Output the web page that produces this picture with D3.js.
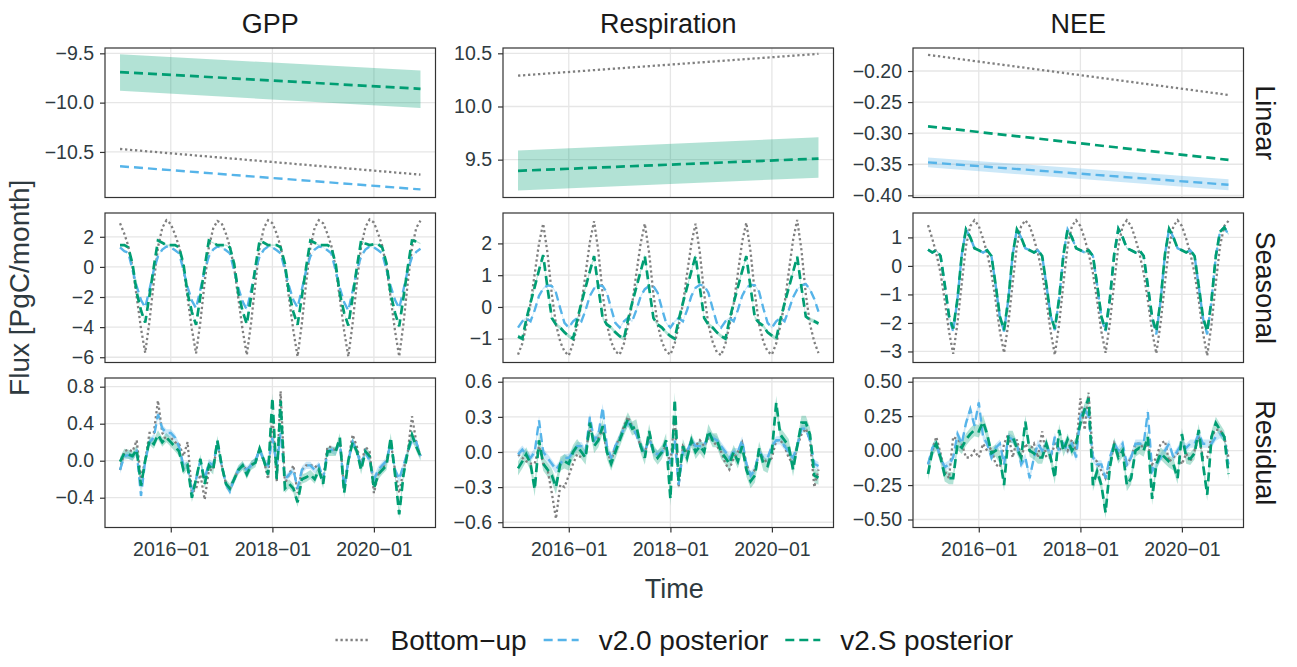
<!DOCTYPE html>
<html>
<head>
<meta charset="utf-8">
<title>Flux components</title>
<script src="https://d3js.org/d3.v7.min.js"></script>
<style>
  body { margin: 0; background: #fff; }
  text { font-family: "Liberation Sans", Arial, Helvetica, sans-serif; }
</style>
</head>
<body>
<script>
// ---------------- data ----------------
const fluxNames = ['GPP', 'Respiration', 'NEE'];
const componentNames = ['Linear', 'Seasonal', 'Residual'];
const seriesNames = ['Bottom\u2212up', 'v2.0 posterior', 'v2.S posterior'];

const months = d3.timeMonth.range(new Date(2015, 0, 1), new Date(2021, 0, 1));
const linearDates = [new Date(2015, 0, 1), new Date(2020, 11, 1)];
const xTickDates = [new Date(2016, 0, 1), new Date(2018, 0, 1), new Date(2020, 0, 1)];
const xTickLabels = ['2016\u221201', '2018\u221201', '2020\u221201'];

// linear trend (start, end)
const gppLinBottomUp = [-10.47, -10.73];
const gppLinV20 = [-10.645, -10.88];
const gppLinV2S = [-9.69, -9.86];
const gppLinV2SLo = [-9.88, -10.055];
const gppLinV2SHi = [-9.51, -9.675];

const respLinBottomUp = [10.29, 10.495];
const respLinV2S = [9.395, 9.51];
const respLinV2SLo = [9.21, 9.33];
const respLinV2SHi = [9.585, 9.71];

const neeLinBottomUp = [-0.174, -0.2385];
const neeLinV20 = [-0.347, -0.383];
const neeLinV20Lo = [-0.355, -0.392];
const neeLinV20Hi = [-0.339, -0.374];
const neeLinV2S = [-0.289, -0.343];

// seasonal (monthly, 2015-01 .. 2020-12)
const gppSeasBottomUp = [
  2.9, 2.2, 1.4, 0.0, -2.0, -4.1, -5.7, -3.6, -1.0, 1.3, 2.6, 3.1,
  2.85, 2.15, 1.35, -0.05, -2.05, -4.15, -5.75, -3.65, -1.0, 1.3, 2.55, 3.05,
  2.9, 2.2, 1.35, -0.05, -2.1, -4.2, -5.85, -3.7, -1.05, 1.3, 2.6, 3.1,
  2.9, 2.2, 1.35, -0.05, -2.1, -4.25, -5.95, -3.75, -1.05, 1.3, 2.6, 3.1,
  2.9, 2.2, 1.4, -0.05, -2.1, -4.25, -5.95, -3.75, -1.0, 1.35, 2.65, 3.15,
  2.95, 2.2, 1.4, -0.05, -2.1, -4.25, -5.95, -3.75, -1.0, 1.3, 2.6, 3.07];
const gppSeasV20 = [
  1.3, 1.05, 0.95, -0.2, -1.3, -2.2, -2.7, -1.5, -0.2, 0.7, 1.15, 1.35,
  1.3, 1.1, 0.9, -0.2, -1.35, -2.25, -2.75, -1.5, -0.2, 0.7, 1.15, 1.35,
  1.3, 1.1, 0.9, -0.25, -1.4, -2.3, -2.85, -1.55, -0.2, 0.7, 1.15, 1.35,
  1.3, 1.1, 0.9, -0.2, -1.3, -2.2, -2.7, -1.5, -0.2, 0.7, 1.15, 1.35,
  1.3, 1.1, 0.9, -0.25, -1.4, -2.35, -2.9, -1.6, -0.2, 0.7, 1.15, 1.35,
  1.3, 1.1, 0.9, -0.2, -1.3, -2.2, -2.75, -1.5, -0.2, 0.65, 1.0, 1.2];
const gppSeasV2S = [
  1.45, 1.45, 1.3, 0.2, -1.7, -2.9, -3.7, -1.9, 0.0, 1.75, 1.6, 1.45,
  1.45, 1.45, 1.3, 0.2, -1.75, -3.0, -3.85, -1.95, 0.0, 1.75, 1.6, 1.45,
  1.45, 1.45, 1.3, 0.2, -1.75, -2.95, -3.8, -1.95, 0.0, 1.75, 1.6, 1.45,
  1.45, 1.45, 1.3, 0.2, -1.75, -3.0, -3.85, -1.95, 0.0, 1.75, 1.6, 1.45,
  1.45, 1.45, 1.3, 0.2, -1.8, -3.05, -3.9, -2.0, 0.0, 1.75, 1.55, 1.45,
  1.5, 1.5, 1.3, 0.2, -1.8, -3.05, -3.95, -2.0, 0.0, 1.75, 1.7, 1.55];

const respSeasBottomUp = [
  -1.5, -1.15, -0.6, 0.1, 1.05, 2.0, 2.62, 1.7, 0.4, -0.55, -1.1, -1.4,
  -1.53, -1.15, -0.6, 0.1, 1.05, 2.05, 2.7, 1.75, 0.4, -0.55, -1.1, -1.4,
  -1.5, -1.15, -0.6, 0.1, 1.05, 2.0, 2.62, 1.7, 0.4, -0.55, -1.1, -1.4,
  -1.5, -1.15, -0.6, 0.1, 1.05, 2.0, 2.62, 1.7, 0.4, -0.55, -1.1, -1.42,
  -1.52, -1.15, -0.6, 0.1, 1.05, 2.05, 2.65, 1.72, 0.4, -0.55, -1.1, -1.4,
  -1.5, -1.15, -0.6, 0.1, 1.1, 2.1, 2.74, 1.78, 0.4, -0.55, -1.1, -1.45];
const respSeasV20 = [
  -0.65, -0.45, -0.35, -0.45, -0.1, 0.35, 0.58, 0.68, 0.66, 0.45, -0.05, -0.5,
  -0.65, -0.45, -0.35, -0.45, -0.1, 0.35, 0.58, 0.68, 0.66, 0.45, -0.05, -0.5,
  -0.65, -0.45, -0.35, -0.45, -0.1, 0.33, 0.56, 0.66, 0.65, 0.45, -0.05, -0.5,
  -0.65, -0.45, -0.35, -0.45, -0.1, 0.35, 0.6, 0.7, 0.66, 0.45, -0.05, -0.5,
  -0.65, -0.45, -0.35, -0.45, -0.1, 0.35, 0.6, 0.7, 0.68, 0.48, -0.05, -0.5,
  -0.65, -0.45, -0.35, -0.45, -0.1, 0.3, 0.55, 0.68, 0.72, 0.55, 0.25, -0.15];
const respSeasV2S = [
  -0.93, -1.0, -0.4, 0.14, 0.63, 1.16, 1.63, 0.6, -0.35, -0.55, -0.65, -0.8,
  -0.92, -1.0, -0.42, 0.13, 0.62, 1.13, 1.6, 0.6, -0.35, -0.55, -0.65, -0.8,
  -0.92, -1.0, -0.42, 0.13, 0.62, 1.13, 1.6, 0.6, -0.35, -0.55, -0.65, -0.8,
  -0.92, -1.0, -0.42, 0.13, 0.62, 1.13, 1.6, 0.6, -0.35, -0.55, -0.65, -0.8,
  -0.92, -1.0, -0.42, 0.13, 0.62, 1.13, 1.6, 0.6, -0.35, -0.5, -0.6, -0.8,
  -0.9, -1.0, -0.42, 0.12, 0.6, 1.1, 1.58, 0.6, -0.3, -0.4, -0.45, -0.52];

const neeSeasBottomUp = [
  1.43, 0.95, 0.45, -0.25, -1.2, -2.3, -3.08, -2.0, -0.6, 0.7, 1.4, 1.6,
  1.4, 0.95, 0.45, -0.25, -1.2, -2.3, -3.05, -2.0, -0.6, 0.7, 1.4, 1.6,
  1.4, 0.95, 0.45, -0.25, -1.2, -2.3, -3.12, -2.05, -0.6, 0.7, 1.4, 1.6,
  1.4, 0.95, 0.45, -0.25, -1.2, -2.3, -3.05, -2.0, -0.6, 0.7, 1.4, 1.6,
  1.4, 0.95, 0.45, -0.25, -1.2, -2.3, -3.07, -2.0, -0.6, 0.7, 1.4, 1.6,
  1.4, 0.95, 0.45, -0.25, -1.2, -2.35, -3.15, -2.05, -0.6, 0.7, 1.4, 1.58];
const neeSeasV20 = [
  0.57, 0.47, 0.55, 0.35, -0.65, -1.8, -2.3, -1.15, 0.4, 1.28, 1.0, 0.62,
  0.55, 0.47, 0.55, 0.35, -0.65, -1.8, -2.3, -1.15, 0.4, 1.28, 1.0, 0.62,
  0.55, 0.47, 0.55, 0.35, -0.65, -1.75, -2.25, -1.15, 0.4, 1.28, 1.0, 0.62,
  0.55, 0.47, 0.55, 0.35, -0.65, -1.8, -2.3, -1.15, 0.4, 1.3, 1.0, 0.62,
  0.55, 0.47, 0.55, 0.35, -0.7, -1.85, -2.4, -1.2, 0.4, 1.3, 1.0, 0.62,
  0.55, 0.47, 0.55, 0.35, -0.7, -1.85, -2.4, -1.2, 0.35, 1.2, 1.35, 1.1];
const neeSeasV2S = [
  0.57, 0.47, 0.55, 0.35, -0.65, -1.75, -2.2, -1.15, 0.4, 1.28, 1.0, 0.62,
  0.55, 0.47, 0.55, 0.35, -0.65, -1.78, -2.25, -1.15, 0.4, 1.28, 1.0, 0.62,
  0.55, 0.47, 0.55, 0.35, -0.65, -1.75, -2.2, -1.15, 0.4, 1.28, 1.0, 0.62,
  0.55, 0.47, 0.55, 0.35, -0.65, -1.78, -2.25, -1.15, 0.4, 1.3, 1.0, 0.62,
  0.55, 0.47, 0.55, 0.35, -0.7, -1.8, -2.3, -1.2, 0.4, 1.3, 1.0, 0.62,
  0.55, 0.47, 0.55, 0.35, -0.7, -1.8, -2.3, -1.2, 0.35, 1.2, 1.35, 1.12];

// residual (monthly, 2015-01 .. 2020-12)
const gppResBottomUp = [
  -0.1, 0.1, 0.12, 0.1, 0.22, -0.2, 0.0, 0.3, 0.3, 0.65, 0.3, 0.22,
  0.25, 0.2, 0.18, 0.05, 0.2, -0.35, -0.3, -0.15, -0.42, -0.1, -0.1, 0.2,
  -0.05, -0.25, -0.3, -0.2, -0.1, -0.05, -0.1, -0.05, 0.0, 0.12, 0.0, -0.2,
  0.5, -0.22, 0.75, -0.25, -0.15, -0.05, -0.35, -0.1, -0.05, -0.05, -0.05, -0.1,
  -0.2, 0.15, 0.15, 0.1, 0.22, -0.3, 0.0, 0.28, 0.15, -0.05, 0.15, 0.1,
  -0.35, -0.15, -0.1, 0.0, 0.2, -0.1, -0.35, -0.1, 0.1, 0.48, 0.2, 0.05];
const gppResV20 = [
  -0.1, 0.05, 0.06, 0.04, 0.1, -0.38, 0.0, 0.2, 0.25, 0.5, 0.35, 0.3,
  0.3, 0.25, 0.15, -0.05, -0.05, -0.35, -0.2, 0.0, -0.2, -0.02, -0.05, 0.2,
  -0.05, -0.25, -0.33, -0.2, -0.1, -0.05, -0.1, -0.05, 0.0, 0.12, 0.0, -0.05,
  0.25, -0.05, 0.3, -0.2, -0.15, -0.1, -0.3, -0.1, -0.05, -0.05, -0.1, -0.05,
  -0.2, 0.1, 0.12, 0.1, 0.2, -0.3, 0.0, 0.2, 0.1, -0.05, 0.1, 0.0,
  -0.2, -0.1, -0.05, 0.0, 0.2, -0.1, -0.2, -0.05, 0.1, 0.22, 0.2, 0.05];
const gppResV2S = [
  -0.01, 0.08, 0.07, 0.05, 0.12, -0.27, 0.0, 0.22, 0.18, 0.28, 0.2, 0.25,
  0.2, 0.15, 0.1, -0.1, -0.05, -0.4, -0.2, 0.02, -0.25, -0.05, -0.1, 0.22,
  -0.05, -0.25, -0.3, -0.2, -0.1, -0.05, -0.15, -0.05, -0.02, 0.13, 0.0, -0.15,
  0.68, -0.2, 0.65, -0.3, -0.25, -0.3, -0.45, -0.2, -0.18, -0.15, -0.2, -0.1,
  -0.25, 0.1, 0.1, 0.1, 0.25, -0.35, 0.0, 0.2, 0.1, -0.1, 0.1, 0.05,
  -0.3, -0.15, -0.1, -0.05, 0.25, -0.15, -0.58, -0.15, 0.1, 0.28, 0.15, 0.05];

const respResBottomUp = [
  -0.02, -0.05, -0.08, -0.1, -0.1, 0.05, -0.1, -0.15, -0.35, -0.57, -0.28, -0.3,
  -0.2, -0.1, -0.02, -0.05, 0.0, 0.2, 0.1, 0.12, 0.2, 0.0, -0.08, 0.05,
  0.12, 0.22, 0.3, 0.22, 0.15, 0.05, 0.0, 0.12, 0.0, -0.02, 0.0, 0.05,
  -0.1, 0.3, -0.3, 0.05, 0.0, 0.08, 0.05, 0.1, 0.05, 0.12, 0.1, 0.05,
  0.0, -0.1, -0.15, -0.05, 0.0, 0.08, -0.1, -0.2, -0.15, 0.0, -0.05, -0.1,
  -0.05, 0.1, 0.1, 0.05, -0.05, -0.1, 0.05, 0.15, 0.2, 0.1, -0.3, -0.15];
const respResV20 = [
  -0.02, 0.02, -0.02, -0.05, 0.0, 0.27, 0.0, -0.05, -0.1, -0.15, -0.1, -0.05,
  -0.05, 0.0, 0.05, 0.05, 0.0, 0.3, 0.1, 0.15, 0.38, 0.05, -0.05, 0.05,
  0.12, 0.2, 0.25, 0.22, 0.15, 0.05, 0.0, 0.12, 0.0, -0.02, 0.0, 0.05,
  -0.1, 0.1, -0.28, 0.0, 0.0, 0.1, 0.05, 0.05, 0.05, 0.15, 0.12, 0.1,
  0.05, 0.0, -0.05, 0.0, 0.0, 0.1, -0.1, -0.2, -0.15, 0.0, -0.05, -0.05,
  0.05, 0.1, 0.1, 0.05, 0.0, -0.05, 0.05, 0.2, 0.2, 0.1, -0.1, -0.12];
const respResV2S = [
  -0.14, -0.08, -0.02, -0.1, -0.32, 0.1, -0.1, -0.15, -0.2, -0.3, -0.1, -0.08,
  -0.1, 0.0, 0.05, 0.0, -0.05, 0.25, 0.05, 0.1, 0.22, 0.0, -0.1, 0.0,
  0.1, 0.2, 0.28, 0.2, 0.22, 0.05, -0.05, 0.18, 0.0, -0.05, 0.0, 0.1,
  -0.4, 0.45, -0.25, 0.05, -0.05, 0.1, 0.0, 0.05, 0.0, 0.18, 0.1, 0.1,
  0.0, -0.05, -0.1, 0.0, -0.08, 0.05, -0.15, -0.25, -0.2, 0.03, -0.1, -0.12,
  0.0, 0.42, 0.15, 0.1, 0.05, -0.15, 0.05, 0.25, 0.25, 0.15, -0.2, -0.22];

const neeResBottomUp = [
  -0.1, 0.0, 0.1, -0.02, -0.15, -0.2, 0.1, 0.08, 0.05, -0.05, -0.05, 0.0,
  -0.05, 0.05, 0.0, 0.02, -0.1, -0.12, 0.05, 0.12, -0.05, 0.08, -0.05, 0.05,
  0.0, 0.05, -0.05, 0.14, -0.05, -0.05, 0.05, 0.0, 0.05, 0.0, 0.08, 0.0,
  0.38, 0.15, 0.42, -0.05, -0.08, -0.15, -0.2, -0.1, 0.05, -0.02, 0.0, -0.1,
  -0.05, 0.05, 0.05, 0.02, 0.05, -0.1, -0.05, 0.05, 0.07, -0.08, -0.05, -0.02,
  -0.1, -0.02, -0.08, 0.0, 0.1, -0.05, -0.05, 0.1, 0.15, 0.15, 0.1, -0.05];
const neeResV20 = [
  -0.1, 0.02, 0.05, -0.05, -0.12, -0.1, -0.05, 0.12, 0.05, 0.2, 0.3, 0.18,
  0.35, 0.1, 0.05, -0.05, 0.02, 0.05, -0.1, 0.1, 0.08, 0.05, -0.1, -0.05,
  -0.2, -0.05, 0.05, 0.0, 0.05, -0.05, 0.1, 0.0, 0.05, 0.0, 0.05, -0.05,
  0.25, 0.3, 0.25, -0.05, -0.1, -0.1, -0.2, -0.05, 0.05, 0.0, 0.05, -0.1,
  -0.05, 0.05, 0.05, 0.05, 0.28, -0.15, -0.1, -0.05, 0.0, 0.05, -0.05, 0.0,
  0.05, 0.02, 0.05, 0.05, 0.12, 0.05, 0.05, 0.05, 0.1, 0.12, 0.1, -0.1];
const neeResV2S = [
  -0.17, 0.0, 0.05, -0.05, -0.18, -0.2, -0.2, 0.05, 0.02, 0.08, 0.12, 0.15,
  0.14, 0.21, 0.12, -0.02, 0.0, -0.05, -0.25, 0.1, 0.1, 0.02, -0.05, 0.21,
  0.0, -0.02, -0.05, -0.05, 0.05, -0.05, -0.2, 0.15, 0.0, 0.08, 0.0, 0.05,
  0.2, 0.3, 0.38, -0.25, -0.15, -0.25, -0.45, -0.12, 0.05, -0.05, 0.0, -0.25,
  -0.2, 0.0, 0.02, 0.0, 0.1, -0.35, -0.1, -0.02, -0.05, -0.08, -0.1, -0.2,
  0.12, -0.05, -0.06, -0.02, 0.15, -0.1, -0.32, 0.1, 0.2, 0.15, 0.1, -0.17];

// uncertainty band half-widths (GPP, Respiration, NEE)
const seasonalBandV20 = [0.03, 0.03, 0.03];
const seasonalBandV2S = [0.04, 0.06, 0.03];
const residualBandV20 = [0.04, 0.035, 0.03];
const residualBandV2S = [0.05, 0.06, 0.045];

// y axis limits and ticks per panel [row][col]
const yLimits = [
  [[-10.962, -9.446], [9.144, 10.55], [-0.4035, -0.163]],
  [[-6.35, 3.58], [-1.748, 2.957], [-3.387, 1.856]],
  [[-0.722, 0.894], [-0.645, 0.632], [-0.558, 0.527]]];
const yTicks = [
  [[-10.5, -10.0, -9.5], [9.5, 10.0, 10.5], [-0.4, -0.35, -0.3, -0.25, -0.2]],
  [[-6, -4, -2, 0, 2], [-1, 0, 1, 2], [-3, -2, -1, 0, 1]],
  [[-0.4, 0.0, 0.4, 0.8], [-0.6, -0.3, 0.0, 0.3, 0.6], [-0.5, -0.25, 0.0, 0.25, 0.5]]];
const yFormats = [
  ['.1f', '.1f', '.2f'],
  ['d', 'd', 'd'],
  ['.1f', '.1f', '.2f']];

// ---------------- build panel table ----------------
function bandOf(vals, w) {
  return { lo: vals.map(v => v - w), hi: vals.map(v => v + w) };
}
const panelSeries = [
  [ // Linear
    [{s: 0, x: linearDates, y: gppLinBottomUp},
     {s: 1, x: linearDates, y: gppLinV20},
     {s: 2, x: linearDates, y: gppLinV2S, lo: gppLinV2SLo, hi: gppLinV2SHi}],
    [{s: 0, x: linearDates, y: respLinBottomUp},
     {s: 2, x: linearDates, y: respLinV2S, lo: respLinV2SLo, hi: respLinV2SHi}],
    [{s: 0, x: linearDates, y: neeLinBottomUp},
     {s: 1, x: linearDates, y: neeLinV20, lo: neeLinV20Lo, hi: neeLinV20Hi},
     {s: 2, x: linearDates, y: neeLinV2S}]
  ],
  [ // Seasonal
    [{s: 0, x: months, y: gppSeasBottomUp},
     Object.assign({s: 1, x: months, y: gppSeasV20}, bandOf(gppSeasV20, seasonalBandV20[0])),
     Object.assign({s: 2, x: months, y: gppSeasV2S}, bandOf(gppSeasV2S, seasonalBandV2S[0]))],
    [{s: 0, x: months, y: respSeasBottomUp},
     Object.assign({s: 1, x: months, y: respSeasV20}, bandOf(respSeasV20, seasonalBandV20[1])),
     Object.assign({s: 2, x: months, y: respSeasV2S}, bandOf(respSeasV2S, seasonalBandV2S[1]))],
    [{s: 0, x: months, y: neeSeasBottomUp},
     Object.assign({s: 1, x: months, y: neeSeasV20}, bandOf(neeSeasV20, seasonalBandV20[2])),
     Object.assign({s: 2, x: months, y: neeSeasV2S}, bandOf(neeSeasV2S, seasonalBandV2S[2]))]
  ],
  [ // Residual
    [{s: 0, x: months, y: gppResBottomUp},
     Object.assign({s: 1, x: months, y: gppResV20}, bandOf(gppResV20, residualBandV20[0])),
     Object.assign({s: 2, x: months, y: gppResV2S}, bandOf(gppResV2S, residualBandV2S[0]))],
    [{s: 0, x: months, y: respResBottomUp},
     Object.assign({s: 1, x: months, y: respResV20}, bandOf(respResV20, residualBandV20[1])),
     Object.assign({s: 2, x: months, y: respResV2S}, bandOf(respResV2S, residualBandV2S[1]))],
    [{s: 0, x: months, y: neeResBottomUp},
     Object.assign({s: 1, x: months, y: neeResV20}, bandOf(neeResV20, residualBandV20[2])),
     Object.assign({s: 2, x: months, y: neeResV2S}, bandOf(neeResV2S, residualBandV2S[2]))]
  ]
];

// ---------------- styling / layout ----------------
const width = 1297, height = 667;
const colX = [105, 503, 913];
const rowY = [48, 213, 378];
const panelW = 330.5, panelH = 149.5;

const colors = ['#808080', '#56B4E9', '#009E73'];
const dashes = ['2.3,2.7', '9,5', '9,5'];
const strokeW = [2.3, 2.4, 2.7];
const textCol = '#2e3a40';
const gridCol = '#e6e6e6';
const fontFam = '"Liberation Sans", Arial, sans-serif';

const svg = d3.select('body').append('svg')
  .attr('width', width)
  .attr('height', height);

// x scale with 5% expansion like ggplot
const t0 = months[0], t1 = months[months.length - 1];
const span = t1 - t0;
const x = d3.scaleTime()
  .domain([new Date(+t0 - 0.05 * span), new Date(+t1 + 0.05 * span)])
  .range([0, panelW]);

const defs = svg.append('defs');

for (let r = 0; r < 3; r++) {
  for (let c = 0; c < 3; c++) {
    const g = svg.append('g').attr('transform', `translate(${colX[c]},${rowY[r]})`);
    const y = d3.scaleLinear().domain(yLimits[r][c]).range([panelH, 0]);
    const clipId = `clip-${r}-${c}`;
    defs.append('clipPath').attr('id', clipId)
      .append('rect').attr('width', panelW).attr('height', panelH);

    // grid
    g.append('g').selectAll('line').data(yTicks[r][c]).join('line')
      .attr('x1', 0).attr('x2', panelW)
      .attr('y1', d => y(d)).attr('y2', d => y(d))
      .attr('stroke', gridCol).attr('stroke-width', 1.3);
    g.append('g').selectAll('line').data(xTickDates).join('line')
      .attr('x1', d => x(d)).attr('x2', d => x(d))
      .attr('y1', 0).attr('y2', panelH)
      .attr('stroke', gridCol).attr('stroke-width', 1.3);

    const plot = g.append('g').attr('clip-path', `url(#${clipId})`);
    const series = panelSeries[r][c];

    // bands
    series.filter(d => d.lo).forEach(d => {
      const area = d3.area()
        .x((v, i) => x(d.x[i]))
        .y0((v, i) => y(d.lo[i]))
        .y1((v, i) => y(d.hi[i]));
      plot.append('path')
        .attr('d', area(d.y))
        .attr('fill', colors[d.s])
        .attr('fill-opacity', 0.3);
    });

    // lines
    series.forEach(d => {
      const line = d3.line()
        .x((v, i) => x(d.x[i]))
        .y(v => y(v));
      plot.append('path')
        .attr('d', line(d.y))
        .attr('fill', 'none')
        .attr('stroke', colors[d.s])
        .attr('stroke-width', strokeW[d.s])
        .attr('stroke-dasharray', dashes[d.s]);
    });

    // border
    g.append('rect')
      .attr('width', panelW).attr('height', panelH)
      .attr('fill', 'none').attr('stroke', '#333').attr('stroke-width', 1.2);

    // y axis
    const yAxis = d3.axisLeft(y)
      .tickValues(yTicks[r][c])
      .tickFormat(d3.format(yFormats[r][c]))
      .tickSize(5).tickPadding(6);
    const ya = g.append('g').call(yAxis);
    ya.select('.domain').remove();
    ya.selectAll('line').attr('stroke', '#333').attr('stroke-width', 1.2);
    ya.selectAll('text').attr('fill', textCol).attr('font-size', 19.5)
      .style('font-family', fontFam);

    // x axis on bottom row
    if (r === 2) {
      const xAxis = d3.axisBottom(x)
        .tickValues(xTickDates)
        .tickFormat((d, i) => xTickLabels[i])
        .tickSize(5).tickPadding(10);
      const xa = g.append('g').attr('transform', `translate(0,${panelH})`).call(xAxis);
      xa.select('.domain').remove();
      xa.selectAll('line').attr('stroke', '#333').attr('stroke-width', 1.2);
      xa.selectAll('text').attr('fill', textCol).attr('font-size', 19.5)
        .style('font-family', fontFam);
    }
  }
}

// strip labels
svg.selectAll('text.colstrip').data(fluxNames).join('text')
  .attr('x', (d, i) => colX[i] + panelW / 2)
  .attr('y', 33)
  .attr('text-anchor', 'middle')
  .attr('font-size', 27)
  .attr('fill', '#1a1a1a')
  .text(d => d);

svg.selectAll('text.rowstrip').data(componentNames).join('text')
  .attr('transform', (d, i) => `translate(${colX[2] + panelW + 12},${rowY[i] + panelH / 2}) rotate(90)`)
  .attr('text-anchor', 'middle')
  .attr('font-size', 27)
  .attr('fill', '#1a1a1a')
  .text(d => d);

// axis titles
svg.append('text')
  .attr('x', (colX[0] + colX[2] + panelW) / 2)
  .attr('y', 598)
  .attr('text-anchor', 'middle')
  .attr('font-size', 27)
  .attr('fill', textCol)
  .text('Time');

svg.append('text')
  .attr('transform', `translate(29,${(rowY[0] + rowY[2] + panelH) / 2}) rotate(-90)`)
  .attr('text-anchor', 'middle')
  .attr('font-size', 28)
  .attr('fill', textCol)
  .text('Flux [PgC/month]');

// legend
const legend = svg.append('g');
let lx = 0;
seriesNames.forEach((name, i) => {
  const item = legend.append('g').attr('transform', `translate(${lx},0)`);
  item.append('line')
    .attr('x1', 0).attr('x2', 35).attr('y1', 0).attr('y2', 0)
    .attr('stroke', colors[i])
    .attr('stroke-width', strokeW[i])
    .attr('stroke-dasharray', dashes[i]);
  const t = item.append('text')
    .attr('x', 55).attr('y', 9.5)
    .attr('font-size', 28)
    .attr('fill', '#1a1a1a')
    .text(name);
  lx += 55 + t.node().getComputedTextLength() + 17;
});
const legendW = lx - 17;
legend.attr('transform', `translate(${(colX[0] + colX[2] + panelW) / 2 - legendW / 2},640)`);
</script>
</body>
</html>
